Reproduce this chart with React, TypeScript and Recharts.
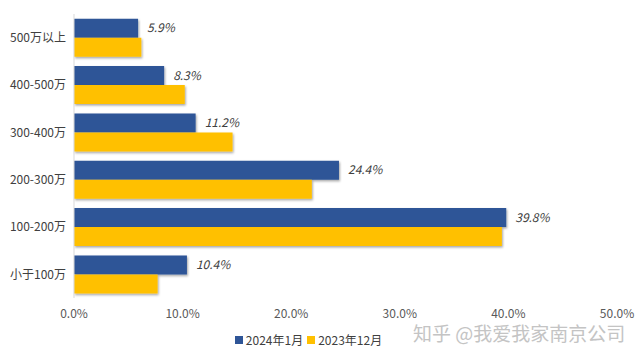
import { BarChart, Bar, XAxis, YAxis, Legend, LabelList, Rectangle } from "recharts";

const categories = ["500万以上", "400-500万", "300-400万", "200-300万", "100-200万", "小于100万"];
const jan2024 = [5.9, 8.3, 11.2, 24.4, 39.8, 10.4];
const dec2023 = [6.2, 10.2, 14.6, 21.9, 39.4, 7.7];
const xTicks = [0, 10, 20, 30, 40, 50];
const seriesNames = ["2024年1月", "2023年12月"];
const seriesColors = ["#2F5597", "#FFC000"];

const data = categories.map((name, i) => ({ name, jan: jan2024[i], dec: dec2023[i] }));

const FONT = "'Noto Sans CJK SC', 'Noto Sans', sans-serif";

const ShadowBar = (props: any) => <Rectangle {...props} filter="url(#barShadow)" />;

// keep legend order as in the source (recharts sorts by name otherwise)
const LegendRow = () => (
  <div style={{ display: "flex", justifyContent: "center", alignItems: "center", gap: 4, fontSize: 12, color: "#404040", fontFamily: FONT }}>
    {seriesNames.map((n, i) => (
      <span key={n} style={{ display: "inline-flex", alignItems: "center" }}>
        <span style={{ width: 8, height: 8, background: seriesColors[i], marginRight: 3, display: "inline-block" }} />
        {n}
      </span>
    ))}
  </div>
);

export default function App() {
  return (
    <div style={{ position: "fixed", left: 0, top: 0, width: 640, height: 360, background: "#fff", fontFamily: FONT }}>
      <svg width="0" height="0" style={{ position: "absolute" }}>
        <defs>
          <filter id="barShadow" x="-5%" y="-20%" width="110%" height="150%">
            <feDropShadow dx="1" dy="1.5" stdDeviation="1" floodColor="#000" floodOpacity="0.35" />
          </filter>
        </defs>
      </svg>
      <BarChart
        width={640}
        height={360}
        data={data}
        layout="vertical"
        margin={{ top: 14, right: 23, bottom: 17, left: 0 }}
        barGap={0}
        barCategoryGap="10%"
      >
        <XAxis
          type="number"
          domain={[0, 50]}
          ticks={xTicks}
          tickFormatter={(v) => `${v.toFixed(1)}%`}
          axisLine={false}
          tickLine={false}
          tick={{ fontSize: 12, fill: "#595959", fontFamily: FONT }}
          height={28}
          tickMargin={5}
        />
        <YAxis
          type="category"
          dataKey="name"
          width={74}
          axisLine={{ stroke: "#d9d9d9" }}
          tickLine={false}
          tick={{ fontSize: 12, fill: "#404040", fontFamily: FONT }}
          tickMargin={2}
        />
        <Legend verticalAlign="bottom" align="center" content={<LegendRow />} wrapperStyle={{ bottom: 12 }} />
        <Bar dataKey="jan" name={seriesNames[0]} fill={seriesColors[0]} isAnimationActive={false} shape={ShadowBar}>
          <LabelList
            dataKey="jan"
            position="right"
            offset={9}
            formatter={(v: any) => `${Number(v).toFixed(1)}%`}
            style={{ fontSize: 12, fill: "#404040", fontStyle: "italic", fontFamily: FONT }}
          />
        </Bar>
        <Bar dataKey="dec" name={seriesNames[1]} fill={seriesColors[1]} isAnimationActive={false} shape={ShadowBar} />
      </BarChart>
      <div
        style={{
          position: "absolute",
          left: 413,
          top: 321,
          fontSize: 19,
          lineHeight: "24px",
          color: "#c4c4c4",
          fontFamily: FONT,
          whiteSpace: "nowrap",
        }}
      >
        知乎 @我爱我家南京公司
      </div>
    </div>
  );
}
